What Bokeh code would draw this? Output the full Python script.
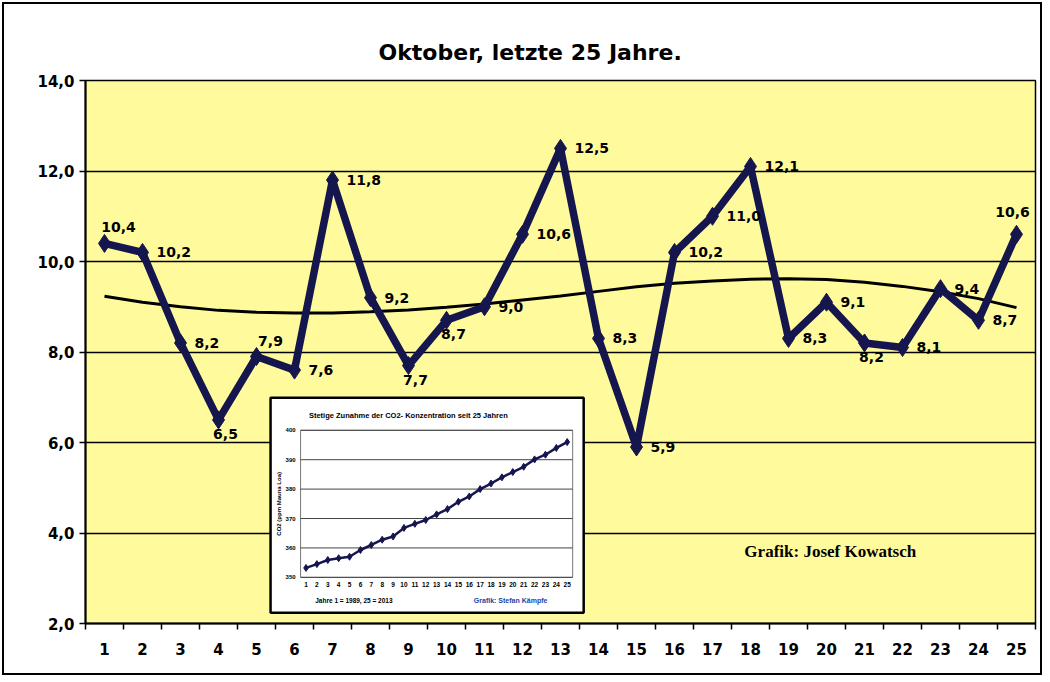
import math
from bokeh.plotting import figure
from bokeh.models import Range1d, FixedTicker, ColumnDataSource
from bokeh.core.properties import value
from bokeh.embed import file_html
from bokeh.resources import INLINE

# ---------------- data ----------------
years = list(range(1, 26))
temps = [10.4, 10.2, 8.2, 6.5, 7.9, 7.6, 11.8, 9.2, 7.7, 8.7, 9.0, 10.6, 12.5,
         8.3, 5.9, 10.2, 11.0, 12.1, 8.3, 9.1, 8.2, 8.1, 9.4, 8.7, 10.6]
trend = [9.23, 9.10, 9.00, 8.92, 8.88, 8.86, 8.86, 8.89, 8.93, 8.99, 9.06, 9.15, 9.24,
         9.34, 9.44, 9.52, 9.57, 9.61, 9.62, 9.60, 9.54, 9.45, 9.33, 9.18, 8.98]
label_pos = ["a", "r", "r", "b", "a", "r", "r", "r", "b", "b", "r", "r", "r",
             "r", "r", "r", "r", "r", "r", "r", "b", "r", "r", "r", "A"]
y_ticks = [2, 4, 6, 8, 10, 12, 14]

co2_years = list(range(1, 26))
co2 = [353.2, 354.5, 355.9, 356.5, 357.0, 359.3, 361.0, 362.8, 363.9, 366.8, 368.2,
       369.5, 371.4, 373.2, 375.7, 377.5, 380.0, 381.9, 384.0, 385.8, 387.6, 390.1,
       391.7, 394.0, 396.0]
co2_ticks = [350, 360, 370, 380, 390, 400]

title = "Oktober, letzte 25 Jahre."
credit = "Grafik: Josef Kowatsch"
inset_title = "Stetige Zunahme der CO2- Konzentration seit 25 Jahren"
inset_ylabel = "CO2 (ppm Mauna Loa)"
inset_note = "Jahre 1 = 1989, 25 = 2013"
inset_credit = "Grafik: Stefan Kämpfe"

# ---------------- styling ----------------
FONT = "DejaVu Sans"
SMALL = "Liberation Sans"
NAVY = "#16164e"
YELLOW = "#FFFB9C"

def de(v):
    return f"{v:.1f}".replace(".", ",")

p = figure(width=1040, height=673,
           x_range=Range1d(0.5, 25.5), y_range=Range1d(2, 14),
           output_backend="svg", toolbar_location=None,
           min_border_left=81, min_border_right=9, min_border_top=76, min_border_bottom=54,
           background_fill_color=YELLOW, border_fill_color="white")
p.styles = {"border": "2px solid black", "margin-left": "2px", "margin-top": "2px"}

p.title.text = title
p.title.align = "left"
p.title.offset = 293
p.title.standoff = 31
p.title.text_font = FONT
p.title.text_font_size = "22px"
p.title.text_font_style = "bold"
p.title.text_color = "black"

p.outline_line_color = "black"
p.outline_line_width = 1.5

# x axis
p.xaxis.ticker = FixedTicker(ticks=years, minor_ticks=[k + 0.5 for k in range(26)])
p.xaxis.major_tick_in = 0
p.xaxis.major_tick_out = 0
p.xaxis.minor_tick_in = 0
p.xaxis.minor_tick_out = 6
p.xaxis.minor_tick_line_color = "black"
p.xaxis.minor_tick_line_width = 1.5
p.xaxis.axis_line_color = "black"
p.xaxis.axis_line_width = 2
p.xaxis.major_label_standoff = 13
p.xaxis.major_label_text_font = FONT
p.xaxis.major_label_text_font_size = "15px"
p.xaxis.major_label_text_font_style = "bold"
p.xaxis.major_label_text_color = "black"
p.xgrid.visible = False

# y axis
p.yaxis.ticker = FixedTicker(ticks=y_ticks)
p.yaxis.major_label_overrides = {t: de(t) for t in y_ticks}
p.yaxis.minor_tick_line_color = None
p.yaxis.major_tick_in = 0
p.yaxis.major_tick_out = 6
p.yaxis.major_tick_line_color = "black"
p.yaxis.major_tick_line_width = 1.5
p.yaxis.axis_line_color = "black"
p.yaxis.axis_line_width = 2
p.yaxis.major_label_standoff = 5
p.yaxis.major_label_text_font = FONT
p.yaxis.major_label_text_font_size = "15px"
p.yaxis.major_label_text_font_style = "bold"
p.yaxis.major_label_text_color = "black"
p.ygrid.ticker = FixedTicker(ticks=y_ticks)
p.ygrid.grid_line_color = "black"
p.ygrid.grid_line_width = 1.5

# main series
src = ColumnDataSource(dict(x=years, y=temps, t=trend))
p.line("x", "t", source=src, line_color="black", line_width=3)
p.line("x", "y", source=src, line_color=NAVY, line_width=7.5, line_join="round")
p.scatter("x", "y", source=src, marker="diamond", size=18,
          fill_color=NAVY, line_color=NAVY)

placements = {
    "r": dict(x_offset=14, y_offset=0, text_align="left", text_baseline="middle"),
    "a": dict(x_offset=14, y_offset=-16, text_align="center", text_baseline="middle"),
    "A": dict(x_offset=-4, y_offset=-22, text_align="center", text_baseline="middle"),
    "b": dict(x_offset=7, y_offset=14, text_align="center", text_baseline="middle"),
}
for code, kw in placements.items():
    idx = [i for i, c in enumerate(label_pos) if c == code]
    s = ColumnDataSource(dict(x=[years[i] for i in idx], y=[temps[i] for i in idx],
                              lbl=[de(temps[i]) for i in idx]))
    p.text("x", "y", text="lbl", source=s, text_font=value(FONT),
           text_font_size="14px", text_font_style="bold", text_color="black", **kw)

# credit
p.text(x=[20.1], y=[3.59], text=[credit], text_font=value("Liberation Serif"),
       text_font_size="17px", text_font_style="bold", text_align="center",
       text_baseline="middle", text_color="black")

# ---------------- inset (CO2) ----------------
box = dict(x0=5.37, x1=13.61, y0=2.24, y1=6.99)      # inset panel in main coords
area = dict(x0=6.16, x1=13.32, y0=3.02, y1=6.27)     # inset plot area in main coords
ix0, ix1 = 0.5, 25.5
iy0, iy1 = co2_ticks[0], co2_ticks[-1]
a = (ix1 - ix0) / (area["x1"] - area["x0"])
b = (iy1 - iy0) / (area["y1"] - area["y0"])
p.extra_x_ranges = {"ix": Range1d(ix0 - (area["x0"] - 0.5) * a, ix1 + (25.5 - area["x1"]) * a)}
p.extra_y_ranges = {"iy": Range1d(iy0 - (area["y0"] - 2) * b, iy1 + (14 - area["y1"]) * b)}
R = dict(x_range_name="ix", y_range_name="iy")

p.quad(left=[box["x0"]], right=[box["x1"]], bottom=[box["y0"]], top=[box["y1"]],
       fill_color="white", line_color="black", line_width=2.5)
p.quad(left=[ix0], right=[ix1], bottom=[iy0], top=[iy1], fill_color="white",
       line_color="#777777", line_width=1, **R)
gsrc = ColumnDataSource(dict(y=co2_ticks, x0=[ix0] * len(co2_ticks), x1=[ix1] * len(co2_ticks),
                             lbl=[str(t) for t in co2_ticks]))
p.segment(x0="x0", y0="y", x1="x1", y1="y", source=gsrc, line_color="#444444",
          line_width=1, **R)
p.text(x="x0", y="y", text="lbl", source=gsrc, x_offset=-5, text_align="right",
       text_baseline="middle", text_font=value(SMALL), text_font_size="6px",
       text_font_style="bold", text_color="black", **R)
xs = ColumnDataSource(dict(x=co2_years, y=[iy0] * len(co2_years), lbl=[str(v) for v in co2_years]))
p.text(x="x", y="y", text="lbl", source=xs, y_offset=5, text_align="center",
       text_baseline="top", text_font=value(SMALL), text_font_size="6.5px",
       text_font_style="bold", text_color="black", **R)
csrc = ColumnDataSource(dict(x=co2_years, y=co2))
p.line("x", "y", source=csrc, line_color=NAVY, line_width=2.5, **R)
p.scatter("x", "y", source=csrc, marker="diamond", size=7, fill_color=NAVY,
          line_color=NAVY, **R)

p.text(x=[10.4], y=[iy1], text=[inset_title], y_offset=-15, text_align="center",
       text_baseline="middle", text_font=value(SMALL), text_font_size="7.5px",
       text_font_style="bold", text_color="black", **R)
p.text(x=[-1.5], y=[(iy0 + iy1) / 2], text=[inset_ylabel], angle=math.pi / 2,
       text_align="center", text_baseline="middle", text_font=value(SMALL),
       text_font_size="6px", text_font_style="bold", text_color="black", **R)
p.text(x=[5.4], y=[iy0], text=[inset_note], y_offset=23, text_align="center",
       text_baseline="middle", text_font=value(SMALL), text_font_size="6.5px",
       text_font_style="bold", text_color="black", **R)
p.text(x=[19.8], y=[iy0], text=[inset_credit], y_offset=23, text_align="center",
       text_baseline="middle", text_font=value(SMALL), text_font_size="7px",
       text_font_style="bold", text_color="#2244aa", **R)

open("out.html", "w").write(file_html(p, INLINE))
